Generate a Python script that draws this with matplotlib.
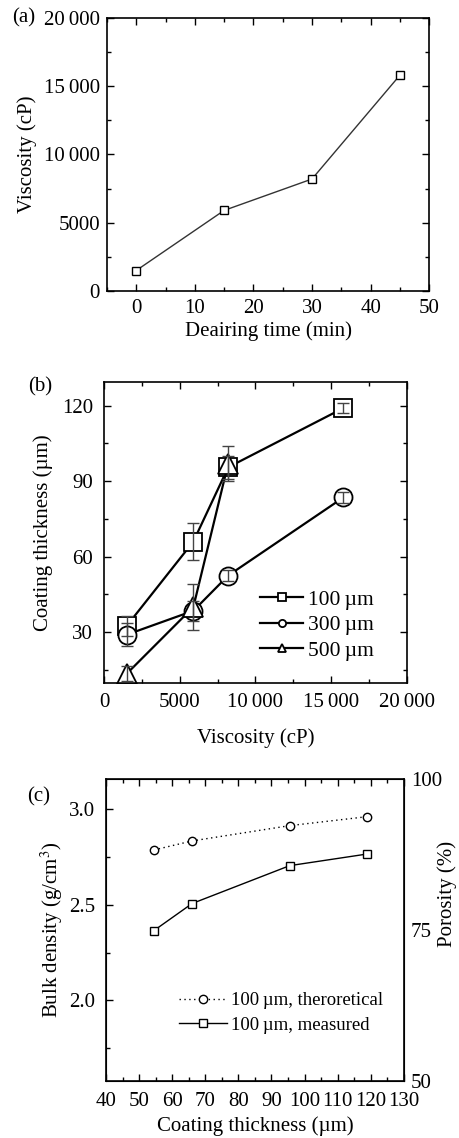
import matplotlib
matplotlib.use("Agg")
import matplotlib.pyplot as plt
from matplotlib.ticker import MultipleLocator, FuncFormatter

# (a) viscosity vs dearing time
dearing_time = [0, 15, 30, 45]
viscosity = [1500, 5900, 8200, 15800]

# (b) coating thickness vs viscosity, per particle size
visc_b = [1500, 5900, 8200, 15800]
thick_100 = [32.5, 66, 95.5, 119]
err_100 = [4, 7.5, 4.5, 2]
thick_300 = [29, 38.5, 52.5, 83.5]
err_300 = [4.5, 4, 2, 2]
visc_500 = [1500, 5900, 8200]
thick_500 = [13.5, 40, 97]
err_500 = [3, 9, 7]

# (c) bulk density vs coating thickness
coat_c = [54.5, 66, 95.5, 119]
dens_theo = [2.786, 2.833, 2.913, 2.96]
dens_meas = [2.365, 2.506, 2.704, 2.765]

FS = 15
plt.rcParams['font.family'] = ['Liberation Serif', 'DejaVu Serif']
plt.rcParams['mathtext.fontset'] = 'stix'
plt.rcParams['font.size'] = FS


def thousands(v, pos):
    v = int(round(v))
    if v >= 10000:
        s = str(v)
        return s[:-3] + '\u2009' + s[-3:]
    return str(v)


def style(ax):
    ax.tick_params(which='both', direction='in', top=True, right=True, labelsize=FS)
    ax.tick_params(which='major', length=5, width=1)
    ax.tick_params(which='minor', length=3, width=1)
    for s in ax.spines.values():
        s.set_linewidth(1.2)


fig = plt.figure(figsize=(4.59, 11.38), dpi=100)

# ---- (a)
ax1 = fig.add_axes([0.233, 0.7443, 0.702, 0.240])
ax1.plot(dearing_time, viscosity, color='#333333', lw=1, marker='s', ms=6,
         mfc='white', mec='black', mew=1)
ax1.set_xlim(-5, 50)
ax1.set_ylim(0, 20000)
ax1.xaxis.set_major_locator(MultipleLocator(10))
ax1.xaxis.set_minor_locator(MultipleLocator(5))
ax1.yaxis.set_major_locator(MultipleLocator(5000))
ax1.yaxis.set_minor_locator(MultipleLocator(2500))
ax1.yaxis.set_major_formatter(FuncFormatter(thousands))
style(ax1)
ax1.tick_params(axis='x', pad=6)
ax1.tick_params(axis='y', pad=5)
ax1.set_xlabel("Deairing time (min)", labelpad=2)
ax1.set_ylabel("Viscosity (cP)", labelpad=5)
fig.text(0.027, 0.9845, "(a)", fontsize=FS, va='center')

# ---- (b)
ax2 = fig.add_axes([0.2266, 0.3998, 0.660, 0.2648])
mk = dict(color='black', lw=1.6, mfc='white', mec='black', mew=1.3)
eb = dict(fmt='none', ecolor='#444444', elinewidth=1, capsize=4, capthick=1, zorder=4)
ax2.plot(visc_b, thick_100, marker='s', ms=13, label='100\u2009\u00b5m', **mk)
ax2.errorbar(visc_b, thick_100, yerr=err_100, **eb)
ax2.plot(visc_b, thick_300, marker='o', ms=13, label='300\u2009\u00b5m', **mk)
ax2.errorbar(visc_b, thick_300, yerr=err_300, **eb)
ax2.plot(visc_500, thick_500, marker='^', ms=15, label='500\u2009\u00b5m', **mk)
ax2.errorbar(visc_500, thick_500, yerr=err_500, **eb)
ax2.set_xlim(0, 20000)
ax2.set_ylim(9.8, 129.5)
ax2.xaxis.set_major_locator(MultipleLocator(5000))
ax2.xaxis.set_minor_locator(MultipleLocator(2500))
ax2.xaxis.set_major_formatter(FuncFormatter(thousands))
ax2.yaxis.set_major_locator(MultipleLocator(30))
ax2.yaxis.set_minor_locator(MultipleLocator(15))
style(ax2)
ax2.tick_params(axis='x', pad=7)
ax2.tick_params(axis='y', pad=8)
ax2.set_xlabel("Viscosity (cP)", labelpad=12)
ax2.set_ylabel("Coating thickness (\u00b5m)", labelpad=6)
ax2.legend(loc='lower right', bbox_to_anchor=(0.918, 0.045), frameon=False,
           markerscale=0.4, handlelength=2.0, handletextpad=0.2, labelspacing=0.25,
           borderaxespad=0, fontsize=15.5)
fig.text(0.062, 0.6599, "(b)", fontsize=FS, va='center')

# ---- (c)
ax3 = fig.add_axes([0.2309, 0.0504, 0.649, 0.2648])
ax3.plot(coat_c, dens_theo, color='black', lw=1, ls=(0, (1, 2.5)), marker='o', ms=6,
         mfc='white', mec='black', mew=1, label='100\u2009\u00b5m, theroretical')
ax3.plot(coat_c, dens_meas, color='black', lw=1, marker='s', ms=6,
         mfc='white', mec='black', mew=1, label='100\u2009\u00b5m, measured')
ax3.set_xlim(40, 130)
ax3.set_ylim(1.581, 3.155)
ax3.xaxis.set_major_locator(MultipleLocator(10))
ax3.xaxis.set_minor_locator(MultipleLocator(5))
ax3.yaxis.set_major_locator(MultipleLocator(0.5))
ax3.yaxis.set_minor_locator(MultipleLocator(0.25))
ax3.yaxis.set_major_formatter(FuncFormatter(lambda v, p: "%.1f" % v))
style(ax3)
ax3.tick_params(axis='x', pad=8)
ax3.tick_params(axis='y', pad=8)
ax3.set_xlabel("Coating thickness (\u00b5m)", labelpad=4)
ax3.set_ylabel("Bulk density (g/cm$^3$)", labelpad=3)
ax3.legend(loc='lower right', bbox_to_anchor=(0.955, 0.13), frameon=False,
           handlelength=2.55, handletextpad=0.2, labelspacing=0.4,
           borderaxespad=0, fontsize=13.5)
ax3r = ax3.twinx()
ax3r.set_ylim(50, 100)
ax3r.set_yticks([50, 75, 100])
ax3r.tick_params(axis='y', length=0, pad=5, labelsize=FS)
fig.text(447 / 459, 0.2145, "Porosity (%)", rotation=90, ha='center', va='center',
         fontsize=FS)
fig.text(0.059, 0.2996, "(c)", fontsize=FS, va='center')

fig.savefig("out.png", dpi=100)
